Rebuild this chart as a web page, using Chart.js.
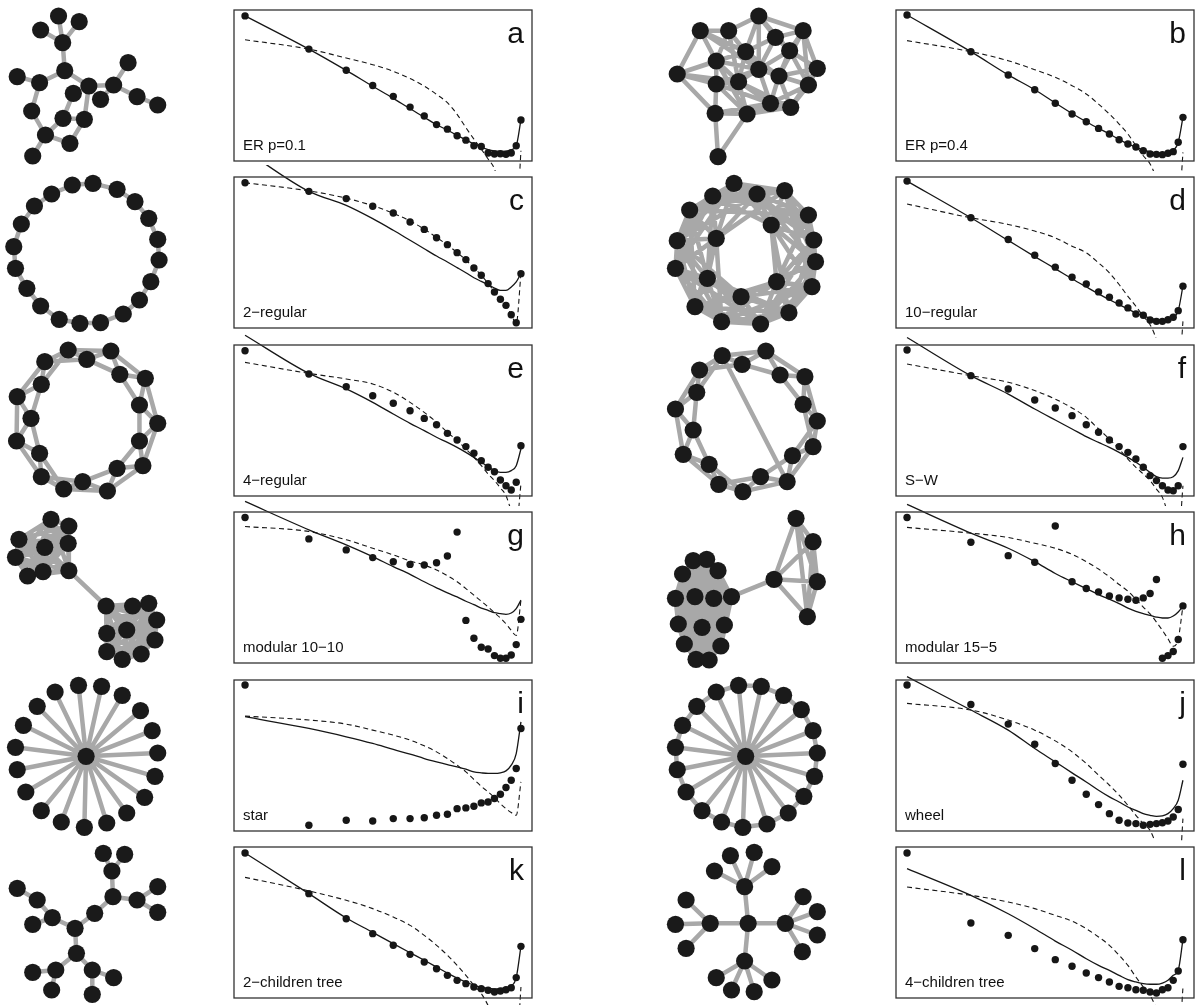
<!DOCTYPE html>
<html>
<head>
<meta charset="utf-8">
<script src="https://cdn.jsdelivr.net/npm/chart.js@4.4.1/dist/chart.umd.min.js"></script>
<style>
  html, body { margin: 0; padding: 0; background: #fff; }
  #fig { position: relative; width: 1196px; height: 1005px; overflow: hidden; background: #fff; }
  #fig canvas { position: absolute; }
  .tag { position: absolute; font-family: "Liberation Sans", Arial, Helvetica, sans-serif; color: #111; white-space: nowrap; line-height: 1; }
  .letter { font-size: 30px; text-align: right; }
  .name { font-size: 15px; }
</style>
</head>
<body>
<div id="fig"></div>
<script>
// ---------- spectra: rank (log axis) vs. value, as % of panel height ----------
const ranks = [1, 2, 3, 4, 5, 6, 7, 8, 9, 10, 11, 12, 13, 14, 15, 16, 17, 18, 19, 20];
const letters = ['a', 'b', 'c', 'd', 'e', 'f', 'g', 'h', 'i', 'j', 'k', 'l'];
const names = ['ER p=0.1', 'ER p=0.4', '2\u2212regular', '10\u2212regular', '4\u2212regular', 'S\u2212W',
               'modular 10\u221210', 'modular 15\u22125', 'star', 'wheel', '2\u2212children tree', '4\u2212children tree'];

const dotsA = [96.1, 74.1, 60.1, 50.0, 42.8, 35.7, 29.8, 24.1, 21.1, 16.7, 13.8, 10.1, 9.6, 5.3, 4.6, 4.8, 4.4, 5.3, 10.1, 27.2];
const fitA  = [96.1, 74.1, 60.0, 49.5, 41.5, 34.6, 29.0, 24.0, 20.5, 17.0, 14.0, 11.3, 9.2, 7.6, 6.7, 6.4, 6.5, 7.5, 10.1, 27.2];
const polyA = [80.3, 74.1, 68.2, 63.8, 59.4, 54.6, 49.6, 44.1, 38.6, 30.9, 22.1, 14.5, 7.9, 1.3, -5.3, -20, -40, -55, -45, 6.8];

const dotsB = [96.7, 72.4, 57.0, 47.2, 38.2, 31.1, 26.0, 21.6, 17.9, 14.1, 11.3, 9.3, 6.8, 4.6, 4.4, 4.2, 5.1, 6.2, 12.4, 28.9];
const fitB  = [96.7, 72.4, 57.0, 47.2, 38.5, 31.5, 26.0, 21.6, 17.9, 14.3, 11.3, 9.2, 7.3, 6.0, 5.3, 5.1, 5.5, 6.8, 12.4, 28.9];
const polyB = [79.7, 72.4, 66.4, 60.5, 55.4, 49.9, 44.4, 37.7, 31.1, 24.5, 17.9, 10.2, 3.5, -2, -12, -28, -45, -55, -40, 5.7];

const dotsC = [96.2, 90.5, 85.7, 80.6, 76.2, 70.2, 65.3, 59.8, 55.2, 49.9, 45.3, 39.7, 34.9, 29.4, 23.8, 19.0, 15.0, 8.8, 3.5, 36.0];
const fitC  = [117.7, 90.5, 81.2, 72.4, 64.7, 58.1, 52.5, 47.7, 43.7, 40.0, 36.6, 33.3, 30.9, 28.7, 26.5, 24.9, 24.9, 27.2, 30.5, 36.0];
const polyC = [96.2, 90.8, 86.0, 81.0, 76.0, 70.8, 65.5, 60.0, 55.0, 50.0, 45.0, 40.0, 35.0, 29.5, 24.0, 19.0, 14.5, 9.0, 3.0, 36.0];

const dotsD = [97.3, 73.0, 58.6, 48.2, 40.3, 33.6, 29.2, 23.9, 20.4, 16.6, 13.3, 9.3, 8.4, 5.3, 4.4, 4.4, 5.5, 7.1, 11.5, 27.7];
const fitD  = [97.3, 73.0, 58.0, 47.3, 39.3, 32.6, 27.2, 22.6, 18.8, 15.5, 12.5, 10.0, 8.0, 6.5, 5.5, 5.2, 5.5, 7.0, 11.5, 27.7];
const polyD = [82.1, 73.0, 68.6, 64.2, 59.7, 54.2, 49.8, 43.1, 36.5, 28.8, 21.0, 14.4, 7.7, 2.2, -8, -25, -45, -55, -40, 4.4];

const dotsE = [96.2, 80.8, 72.4, 66.4, 61.4, 56.5, 51.4, 47.2, 41.5, 37.1, 32.7, 28.3, 23.4, 19.0, 16.1, 10.6, 6.8, 4.0, 9.1, 33.3];
const fitE  = [106.5, 81.2, 70.9, 62.0, 54.3, 48.1, 43.3, 38.9, 35.5, 32.2, 28.9, 25.6, 22.3, 19.4, 16.8, 15.7, 15.7, 16.8, 20.1, 31.1];
const polyE = [88.5, 81.2, 77.5, 74.2, 68.7, 62.0, 55.4, 48.8, 42.2, 36.6, 31.1, 25.6, 20.1, 14.6, 10.2, 5.3, 0.2, -10, -20, 8.0];

const dotsF = [96.7, 79.7, 70.9, 63.6, 58.3, 53.2, 47.2, 42.2, 37.1, 32.7, 28.9, 24.5, 19.0, 13.5, 10.2, 6.8, 4.0, 3.5, 6.8, 32.7];
const fitF  = [105.0, 79.7, 67.5, 57.6, 50.3, 44.4, 39.3, 35.5, 32.2, 28.9, 25.6, 22.3, 19.0, 15.7, 12.8, 11.9, 11.9, 12.8, 16.8, 25.6];
const polyF = [87.4, 79.7, 75.3, 69.8, 64.2, 58.3, 52.1, 44.4, 37.7, 31.1, 24.5, 19.0, 14.6, 10.2, 4.6, -0.9, -12, -25, -30, 6.8];

const dotsG = [96.4, 82.2, 74.9, 69.8, 67.1, 65.3, 64.9, 66.4, 70.9, 86.7, 28.2, 16.4, 10.4, 9.3, 4.9, 3.1, 3.1, 5.3, 12.2, 28.9];
const fitG  = [107.0, 88.2, 78.2, 70.4, 63.8, 58.7, 53.8, 49.8, 46.4, 43.8, 40.9, 38.7, 36.4, 34.9, 33.3, 32.7, 32.2, 33.1, 36.0, 41.6];
const polyG = [90.4, 87.1, 81.6, 76.0, 71.6, 67.6, 64.9, 61.6, 57.8, 53.8, 49.3, 44.9, 40.9, 37.1, 33.3, 29.8, 26.0, 21.6, 18.2, 41.6];

const dotsH = [96.4, 80.0, 71.1, 66.7, 90.7, 53.8, 49.3, 47.1, 44.4, 43.1, 42.2, 41.6, 43.1, 46.0, 55.3, 3.1, 4.9, 7.6, 15.6, 37.8];
const fitH  = [105.0, 86.0, 76.0, 67.1, 59.3, 53.8, 49.3, 45.3, 42.2, 39.3, 36.4, 34.2, 32.7, 31.6, 30.4, 29.8, 29.8, 31.1, 33.8, 37.8];
const polyH = [89.8, 86.0, 83.1, 79.3, 76.0, 72.0, 67.1, 62.2, 57.1, 52.0, 47.6, 42.2, 37.0, 32.5, 27.1, 21.6, 16.0, 11.1, 16.0, 37.8];

const dotsI = [96.7, 3.8, 7.1, 6.6, 8.2, 8.2, 8.8, 10.4, 11.1, 14.8, 15.3, 16.4, 18.6, 19.2, 21.5, 24.3, 28.8, 33.6, 41.4, 67.9];
const fitI  = [75.7, 67.9, 62.4, 58.0, 54.0, 50.9, 48.0, 45.8, 44.0, 42.5, 40.9, 39.2, 38.5, 38.1, 38.1, 38.5, 39.8, 43.6, 51.3, 72.3];
const polyI = [76.1, 73.5, 70.8, 66.8, 63.5, 60.2, 56.4, 52.4, 48.0, 43.6, 39.2, 34.1, 29.6, 25.9, 22.1, 18.1, 14.8, 12.2, 10.4, 32.5];

const dotsJ = [96.7, 83.8, 70.8, 57.5, 44.7, 33.6, 24.3, 17.5, 11.5, 7.1, 5.3, 4.9, 3.8, 4.4, 4.9, 5.5, 6.6, 9.3, 14.2, 44.2];
const fitJ  = [102.2, 80.1, 66.8, 54.6, 45.8, 38.5, 32.5, 27.0, 22.6, 19.2, 15.9, 13.7, 11.5, 10.4, 9.7, 10.0, 11.5, 14.8, 20.4, 33.6];
const polyJ = [84.5, 80.1, 73.5, 66.8, 59.7, 52.4, 44.7, 37.0, 30.3, 23.7, 17.0, 10.4, 4.9, 0.4, -10, -25, -40, -50, -40, 8.2];

const dotsK = [96.0, 69.1, 52.5, 42.6, 34.9, 28.9, 23.8, 19.4, 15.0, 11.7, 9.5, 7.3, 6.2, 5.1, 4.0, 4.6, 5.5, 6.8, 13.5, 34.2];
const fitK  = [96.0, 69.1, 53.0, 43.5, 36.0, 30.0, 25.0, 20.5, 16.5, 13.2, 10.6, 8.6, 7.2, 6.3, 6.0, 6.2, 6.8, 8.0, 13.5, 34.2];
const polyK = [79.9, 70.9, 64.7, 59.2, 53.6, 48.1, 41.5, 34.9, 28.3, 21.6, 15.0, 8.4, 2.9, -5, -15, -30, -45, -50, -40, 7.3];

const dotsL = [96.0, 49.7, 41.5, 32.7, 25.4, 21.0, 16.6, 13.5, 10.6, 7.7, 6.8, 5.5, 5.1, 4.0, 3.3, 5.5, 6.8, 11.7, 17.9, 38.6];
const fitL  = [85.7, 68.0, 55.8, 45.9, 37.7, 31.6, 26.0, 21.6, 18.3, 15.0, 12.1, 10.6, 9.5, 9.1, 9.1, 9.9, 11.7, 15.0, 18.3, 38.6];
const polyL = [73.5, 68.0, 63.6, 59.2, 54.7, 50.9, 45.9, 40.4, 34.9, 28.3, 21.6, 13.9, 7.3, 1.8, -8, -25, -40, -50, -40, 7.0];

// ---------- network layouts (drawing units) ----------
const nodesA = [[170,48],[118,90],[230,65],[182,128],[188,212],[50,230],[115,248],[258,258],[213,280],[330,255],
                [372,188],[292,298],[398,290],[458,315],[92,333],[183,355],[245,358],[132,405],[203,430],[95,468]];
const linksA = '0-3 1-3 2-3 3-4 4-6 5-6 4-7 7-9 9-10 9-12 12-13 9-11 7-16 6-14 14-17 17-15 15-8 15-16 16-18 18-17 17-19';

const nodesB = [[335,48],[170,92],[250,92],[460,92],[382,112],[298,155],[422,152],[215,183],[500,205],[105,222],
                [335,208],[392,228],[215,252],[278,245],[475,255],[368,310],[425,322],[212,340],[302,342],[220,470]];
const linksB = '1-2 2-0 0-3 1-9 9-17 17-19 19-18 17-18 18-15 15-16 16-14 14-8 8-3 3-4 0-4 0-5 1-5 9-7 9-12 9-5 2-5 1-7 2-7 ' +
               '0-10 3-6 3-11 4-6 4-5 5-10 5-13 6-8 6-11 6-10 7-12 7-13 7-10 10-11 10-13 10-15 11-14 11-16 11-15 12-13 ' +
               '12-17 12-18 13-18 13-15 14-6 8-16 14-15 17-15 13-16 2-10 1-10 7-18 12-15 5-11 0-6 9-13 18-16 10-12 2-13 4-10 8-11 3-14';

// ring lattices: nodes listed in ring order, each tied to its `reach` nearest ring neighbours per side
const nodesC = [[270,40],[340,58],[392,95],[432,145],[458,208],[462,270],[438,335],[405,390],[358,432],[292,458],
                [232,460],[172,448],[118,408],[78,355],[45,295],[40,230],[62,162],[100,108],[150,72],[210,45]];
const reachC = 1;
const nodesD = [[265,40],[330,72],[408,62],[475,135],[370,165],[490,210],[495,275],[485,350],[385,335],[420,428],
                [340,462],[285,380],[230,455],[155,410],[190,325],[100,295],[105,212],[215,205],[140,120],[205,78]];
const reachD = 5;
const nodesE = [[198,45],[252,73],[322,48],[348,118],[422,130],[405,210],[458,265],[405,318],[415,392],[340,400],
                [312,468],[240,440],[185,462],[120,425],[115,355],[48,318],[90,250],[50,185],[120,148],[130,80]];
const reachE = 2;
const nodesF = [[355,48],[395,120],[465,125],[460,208],[500,258],[488,335],[430,362],[415,440],[340,425],[290,470],
                [222,448],[195,388],[122,358],[150,285],[100,222],[160,172],[168,105],[232,62],[288,88]];
const reachF = 2;
const shortcutF = '17-7';

// modular graphs: each module is fully connected, plus one bridge
const nodesG = [[148,58],[200,78],[55,118],[130,142],[198,130],[45,172],[80,228],[125,215],[200,212],
                [308,318],[385,318],[432,310],[455,360],[310,400],[368,390],[450,420],[310,455],[355,478],[410,462]];
const modulesG = [[0,1,2,3,4,5,6,7,8],[9,10,11,12,13,14,15,16,17,18]];
const bridgeG = '8-9';
const nodesH = [[150,182],[188,178],[120,222],[220,212],[100,295],[155,290],[208,295],[258,290],[108,372],[175,382],
                [238,375],[125,432],[228,438],[158,478],[195,480],[440,55],[488,125],[378,238],[500,245],[472,350]];
const modulesH = [[0,1,2,3,4,5,6,7,8,9,10,11,12,13,14],[15,16,17,18,19]];
const bridgeH = '7-17';

// hub graphs: node 0 is the hub, the rest listed around it
const nodesI = [[250,265],[228,52],[295,55],[355,82],[408,128],[442,188],[458,255],[450,325],[420,388],[368,435],
                [310,465],[245,478],[178,462],[120,428],[75,372],[50,305],[45,238],[68,172],[108,115],[160,72]];
const nodesJ = [[298,265],[278,52],[342,55],[405,82],[455,125],[488,188],[500,255],[492,325],[462,385],[418,435],
                [358,468],[290,478],[230,462],[175,428],[130,372],[105,305],[100,238],[120,172],[160,115],[215,72]];

const nodesK = [[300,55],[362,58],[325,108],[328,185],[398,195],[458,155],[458,232],[275,235],[50,160],[108,195],
                [152,248],[95,268],[218,280],[222,355],[162,405],[95,412],[150,465],[268,405],[330,428],[268,478]];
const linksK = '0-2 1-2 2-3 3-4 4-5 4-6 3-7 7-12 12-10 10-9 9-8 10-11 12-13 13-14 14-15 14-16 13-17 17-18 17-19';
const nodesL = [[305,265],[295,155],[198,265],[410,265],[295,378],[210,108],[255,62],[322,52],[372,95],[130,195],
                [100,268],[130,340],[460,185],[500,230],[500,300],[458,350],[215,428],[258,465],[322,470],[372,435]];
const linksL = '0-1 0-2 0-3 0-4 1-5 1-6 1-7 1-8 2-9 2-10 2-11 3-12 3-13 3-14 3-15 4-16 4-17 4-18 4-19';

// ---------- graph helpers ----------
function parseLinks(s) { return s.trim().split(/\s+/).map(t => t.split('-').map(Number)); }
function ringLinks(n, reach, first) {
  first = first || 0;
  const out = [];
  for (let i = 0; i < n; i++) for (let k = 1; k <= reach; k++) out.push([first + i, first + (i + k) % n]);
  return out;
}
function moduleLinks(mods) {
  const out = [];
  mods.forEach(m => { for (let a = 0; a < m.length; a++) for (let b = a + 1; b < m.length; b++) out.push([m[a], m[b]]); });
  return out;
}
function hubLinks(n) { const out = []; for (let i = 1; i < n; i++) out.push([0, i]); return out; }

const networks = [
  { nodes: nodesA, links: parseLinks(linksA) },
  { nodes: nodesB, links: parseLinks(linksB) },
  { nodes: nodesC, links: ringLinks(nodesC.length, reachC) },
  { nodes: nodesD, links: ringLinks(nodesD.length, reachD) },
  { nodes: nodesE, links: ringLinks(nodesE.length, reachE) },
  { nodes: nodesF, links: ringLinks(nodesF.length, reachF).concat(parseLinks(shortcutF)) },
  { nodes: nodesG, links: moduleLinks(modulesG).concat(parseLinks(bridgeG)) },
  { nodes: nodesH, links: moduleLinks(modulesH).concat(parseLinks(bridgeH)) },
  { nodes: nodesI, links: hubLinks(nodesI.length) },
  { nodes: nodesJ, links: hubLinks(nodesJ.length).concat(ringLinks(nodesJ.length - 1, 1, 1)) },
  { nodes: nodesK, links: parseLinks(linksK) },
  { nodes: nodesL, links: parseLinks(linksL) }
];
const spectra = [
  [dotsA, fitA, polyA], [dotsB, fitB, polyB], [dotsC, fitC, polyC], [dotsD, fitD, polyD],
  [dotsE, fitE, polyE], [dotsF, fitF, polyF], [dotsG, fitG, polyG], [dotsH, fitH, polyH],
  [dotsI, fitI, polyI], [dotsJ, fitJ, polyJ], [dotsK, fitK, polyK], [dotsL, fitL, polyL]
];

// ---------- layout ----------
const fig = document.getElementById('fig');
const boxLeft = [234, 896];
const boxW = 298, boxH = 151;
const rowTop = r => Math.round(10 + r * 167.4);
const netTop = [0, 170, 335, 500, 668, 835];
const netLeft = [0, 640];
const netUnit = [2.904, 2.82];   // drawing units per pixel, horizontally
const netUnitY = 3;
const INK = '#161616';

Chart.defaults.font.family = '"Liberation Sans", Arial, sans-serif';

function makeCanvas(left, top, w, h) {
  const cv = document.createElement('canvas');
  cv.width = w; cv.height = h;
  cv.style.left = left + 'px'; cv.style.top = top + 'px';
  cv.style.width = w + 'px'; cv.style.height = h + 'px';
  fig.appendChild(cv);
  return cv;
}

const quiet = { legend: { display: false }, tooltip: { enabled: false }, title: { display: false } };

function drawNetwork(p) {
  const c = p % 2, r = Math.floor(p / 2);
  const w = 200, h = 170;
  const cv = makeCanvas(netLeft[c], netTop[r], w, h);
  const net = networks[p];
  const segs = [];
  net.links.forEach(([i, j]) => {
    segs.push({ x: net.nodes[i][0], y: net.nodes[i][1] });
    segs.push({ x: net.nodes[j][0], y: net.nodes[j][1] });
    segs.push({ x: net.nodes[j][0], y: null });
  });
  new Chart(cv, {
    type: 'scatter',
    data: { datasets: [
      { data: segs, showLine: true, spanGaps: false, borderColor: '#a8a8a8', borderWidth: 4.5,
        pointRadius: 0, clip: false, order: 2 },
      { data: net.nodes.map(n => ({ x: n[0], y: n[1] })), pointRadius: 8.6, pointHoverRadius: 8.6,
        backgroundColor: '#1a1a1a', borderWidth: 0, clip: false, order: 1 }
    ] },
    options: {
      responsive: false, animation: false, events: [],
      plugins: quiet, layout: { padding: 0, autoPadding: false },
      scales: {
        x: { type: 'linear', display: false, min: 0, max: w * netUnit[c] },
        y: { type: 'linear', display: false, min: 0, max: h * netUnitY, reverse: true }
      }
    }
  });
}

const framePlugin = {
  id: 'frame',
  afterDatasetsDraw(chart) {
    const a = chart.chartArea, ctx = chart.ctx;
    ctx.save();
    ctx.strokeStyle = '#333';
    ctx.lineWidth = 1.3;
    ctx.strokeRect(a.left, a.top, a.right - a.left, a.bottom - a.top);
    ctx.restore();
  }
};

function drawSpectrum(p) {
  const c = p % 2, r = Math.floor(p / 2);
  const pad = { left: 6, right: 6, top: 12, bottom: 10 };
  const top = rowTop(r);
  const cv = makeCanvas(boxLeft[c] - pad.left, top - pad.top, boxW + pad.left + pad.right, boxH + pad.top + pad.bottom);
  const [dots, fit, poly] = spectra[p];
  const pts = arr => ranks.map((k, i) => ({ x: k, y: arr[i] }));
  const curve = { showLine: true, pointRadius: 0, borderColor: INK, cubicInterpolationMode: 'monotone',
                  capBezierPoints: false, clip: pad };
  new Chart(cv, {
    type: 'scatter',
    data: { datasets: [
      Object.assign({ data: pts(poly), borderWidth: 1.1, borderDash: [5, 3.5], order: 3 }, curve),
      Object.assign({ data: pts(fit), borderWidth: 1.3, order: 2 }, curve),
      { data: pts(dots), pointRadius: 3.7, pointHoverRadius: 3.7, backgroundColor: INK, borderWidth: 0,
        clip: pad, order: 1 }
    ] },
    options: {
      responsive: false, animation: false, events: [],
      plugins: quiet, layout: { padding: pad, autoPadding: false },
      scales: {
        x: { type: 'logarithmic', display: false, min: 0.887, max: 22.55 },
        y: { type: 'linear', display: false, min: 0, max: 100 }
      }
    },
    plugins: [framePlugin]
  });

  const letter = document.createElement('div');
  letter.className = 'tag letter';
  letter.textContent = letters[p];
  letter.style.right = (1196 - (boxLeft[c] + boxW - 8)) + 'px';
  letter.style.top = (top + 33 - 25.4) + 'px';
  fig.appendChild(letter);

  const name = document.createElement('div');
  name.className = 'tag name';
  name.textContent = names[p];
  name.style.left = (boxLeft[c] + 9) + 'px';
  name.style.top = (top + boxH - 11 - 12.7) + 'px';
  fig.appendChild(name);
}

for (let p = 0; p < 12; p++) { drawNetwork(p); drawSpectrum(p); }
</script>
</body>
</html>
